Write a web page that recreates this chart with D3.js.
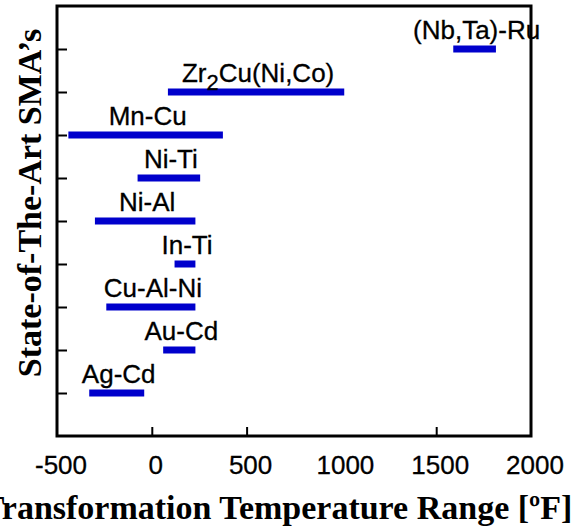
<!DOCTYPE html>
<html><head><meta charset="utf-8">
<script src="https://cdn.jsdelivr.net/npm/d3@7"></script>
<style>body{margin:0;background:#fff}svg{display:block}</style>
</head><body><svg id="c" width="571" height="529"></svg>
<script>
const alloys = ["Ag-Cd","Au-Cd","Cu-Al-Ni","In-Ti","Ni-Al","Ni-Ti","Mn-Cu","Zr2Cu(Ni,Co)","(Nb,Ta)-Ru"];
const lowF  = [-330, 60, -240, 120, -300, -75, -440, 85, 1590];
const highF = [-40, 230, 230, 230, 230, 255, 375, 1015, 1815];
const xTickLabels = [-500, 0, 500, 1000, 1500, 2000];
const xTickMarks = [0, 500, 1500];

const svg = d3.select("#c");
const L=57,R=531,T=6,B=436;
const x = d3.scaleLinear().domain([-500,2000]).range([L,R]);
const y = d3.scaleLinear().domain([0,10]).range([B,T]);
const sans = "Liberation Sans, Arial, sans-serif";
const serif = "Liberation Serif, Times New Roman, serif";

// bars
alloys.forEach((a,i)=>{
  svg.append("rect").attr("x",x(lowF[i])).attr("y",y(i+1)-3.5)
    .attr("width",x(highF[i])-x(lowF[i])).attr("height",7).attr("fill","#0000cc");
  const t = svg.append("text").attr("x",(x(lowF[i])+x(highF[i]))/2+2).attr("y",y(i+1)-10)
    .attr("text-anchor","middle").attr("font-family",sans)
    .attr("font-size",26).attr("fill","#000").attr("stroke","#000").attr("stroke-width",0.3);
  if(a.startsWith("Zr2")){
    t.append("tspan").text("Zr");
    t.append("tspan").attr("dy",8).attr("font-size",22).text("2");
    t.append("tspan").attr("dy",-8).text("Cu(Ni,Co)");
  } else t.text(a);
});

// frame
svg.append("rect").attr("x",L).attr("y",T).attr("width",R-L).attr("height",B-T)
  .attr("fill","none").attr("stroke","#000").attr("stroke-width",3);

// y ticks (inward)
const yAxis = d3.axisLeft(y).tickValues(d3.range(1,10)).tickSize(-10).tickFormat("");
const gy = svg.append("g").attr("transform",`translate(${L},0)`).call(yAxis);
gy.select(".domain").remove();
gy.selectAll(".tick line").attr("stroke","#000").attr("stroke-width",2);

// x ticks (inward)
const xAxis = d3.axisBottom(x).tickValues(xTickMarks).tickSize(-9).tickFormat("");
const gx = svg.append("g").attr("transform",`translate(0,${B})`).call(xAxis);
gx.select(".domain").remove();
gx.selectAll(".tick line").attr("stroke","#000").attr("stroke-width",2);

// x tick labels
svg.selectAll(".xl").data(xTickLabels).enter().append("text")
  .attr("x",d=>x(d)+4).attr("y",474).attr("text-anchor","middle")
  .attr("font-family",sans).attr("font-size",26).attr("stroke","#000").attr("stroke-width",0.3)
  .text(d=>d);

// axis titles
svg.append("text").attr("x",277).attr("y",519).attr("text-anchor","middle")
  .attr("font-family",serif).attr("font-weight","bold")
  .attr("font-size",34).text("Transformation Temperature Range [ºF]");
svg.append("text").attr("transform","translate(41,203) rotate(-90)").attr("text-anchor","middle")
  .attr("font-family",serif).attr("font-weight","bold")
  .attr("font-size",34).text("State-of-The-Art SMA’s");
</script></body></html>
